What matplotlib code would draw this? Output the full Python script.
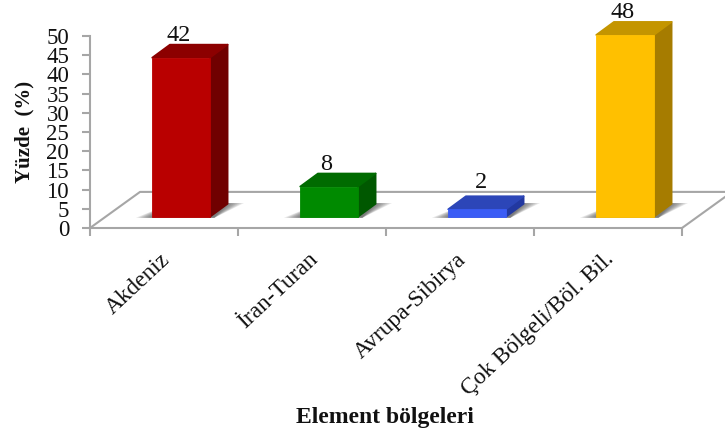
import matplotlib
matplotlib.use("Agg")
import matplotlib.pyplot as plt
from matplotlib.patches import Polygon

plt.rcParams['font.family'] = ['Liberation Serif', 'DejaVu Serif']

categories = ['Akdeniz', 'İran-Turan', 'Avrupa-Sibirya', 'Çok Bölgeli/Böl. Bil.']
values = [42, 8, 2, 48]
y_ticks = [0, 5, 10, 15, 20, 25, 30, 35, 40, 45, 50]

front_colors = ['#b90000', '#008a00', '#3a5cf5', '#ffc000']
top_colors = ['#8c0000', '#006b00', '#2c46b8', '#c49500']
side_colors = ['#700000', '#005800', '#2238a0', '#a67c00']

W, H = 725, 437
AXIS_COLOR = '#a6a6a6'

# 3d look: the depth of a bar and of the floor, in data units
bar_w = 0.39
bar_dx = 0.12
bar_dy = 3.4
floor_dx = 0.338
floor_dy = 9.4
base = 2.9
shift = 0.115
# bars stand further back than the axis, so they come out a little shorter
depth_scale = 0.987


def draw_bar(ax, i, val):
    x0 = i + shift + (1 - bar_w) / 2
    x1 = x0 + bar_w
    top = base + val * depth_scale

    # soft shadow on the floor, built from nested layers
    for s in [0.11, 0.095, 0.08, 0.065, 0.05, 0.035, 0.02, 0.005]:
        ax.add_patch(Polygon([(x0 - s, base - 0.25), (x1 + 0.03, base - 0.25),
                              (x1 + bar_dx + s, base + bar_dy + 0.2), (x0 + bar_dx, base + bar_dy)],
                             closed=True, fc='#404040', ec='none', alpha=0.13,
                             zorder=3, clip_on=False))

    ax.add_patch(Polygon([(x1, base), (x1 + bar_dx, base + bar_dy), (x1 + bar_dx, top + bar_dy), (x1, top)],
                         closed=True, fc=side_colors[i], ec=side_colors[i], lw=1.2,
                         joinstyle='round', zorder=4, clip_on=False))
    ax.add_patch(Polygon([(x0, top), (x1, top), (x1 + bar_dx, top + bar_dy), (x0 + bar_dx, top + bar_dy)],
                         closed=True, fc=top_colors[i], ec=top_colors[i], lw=1.2,
                         joinstyle='round', zorder=4, clip_on=False))
    ax.add_patch(Polygon([(x0, base), (x1, base), (x1, top), (x0, top)],
                         closed=True, fc=front_colors[i], ec=front_colors[i], lw=0.6,
                         zorder=5, clip_on=False))

    # the small bar has its label further up and to the right
    small = val < 5
    ax.annotate(str(val), ((x0 + x1) / 2, top + bar_dy), xytext=(3 if small else -2, 2 if small else -1),
                textcoords='offset points', ha='center', va='bottom', fontsize=17.5, color='#111111',
                annotation_clip=False, zorder=6)


fig = plt.figure(figsize=(W / 100, H / 100), dpi=100)
ax = fig.add_axes([90 / W, 1 - 228 / H, (682 - 90) / W, (228 - 36) / H])
ax.set_xlim(0, 4)
ax.set_ylim(0, 50)

for name in ['top', 'right']:
    ax.spines[name].set_visible(False)
for name in ['left', 'bottom']:
    ax.spines[name].set_color(AXIS_COLOR)
    ax.spines[name].set_linewidth(1.5)

ax.set_yticks(y_ticks)
ax.tick_params(axis='y', length=6, width=1.5, color=AXIS_COLOR, labelsize=16.5, pad=9, labelcolor='#111111')
ax.set_xticks(range(5))
ax.set_xticklabels([])
ax.tick_params(axis='x', length=5.5, width=1.5, color=AXIS_COLOR)

# floor outline
ax.plot([0, floor_dx, 4 + floor_dx], [0, floor_dy, floor_dy], color=AXIS_COLOR, lw=1.5, zorder=1, clip_on=False)
ax.plot([4, 4 + floor_dx], [0, floor_dy], color=AXIS_COLOR, lw=1.5, zorder=1, clip_on=False)

for i, val in enumerate(values):
    draw_bar(ax, i, val)

for i, name in enumerate(categories):
    ax.annotate(name, (i + 0.5, 0), xytext=(-3, -15), textcoords='offset points',
                rotation=43, rotation_mode='anchor', ha='right', va='top',
                fontsize=16.8, color='#111111', annotation_clip=False)

fig.text(24 / W, 1 - 132 / H, 'Yüzde  (%)', rotation=90, ha='center', va='center',
         fontsize=15, fontweight='bold', color='#111111')
fig.text(385 / W, 1 - 418 / H, 'Element bölgeleri', ha='center', va='center',
         fontsize=17, fontweight='bold', color='#111111')

fig.savefig('out.png', dpi=100, facecolor='white')
